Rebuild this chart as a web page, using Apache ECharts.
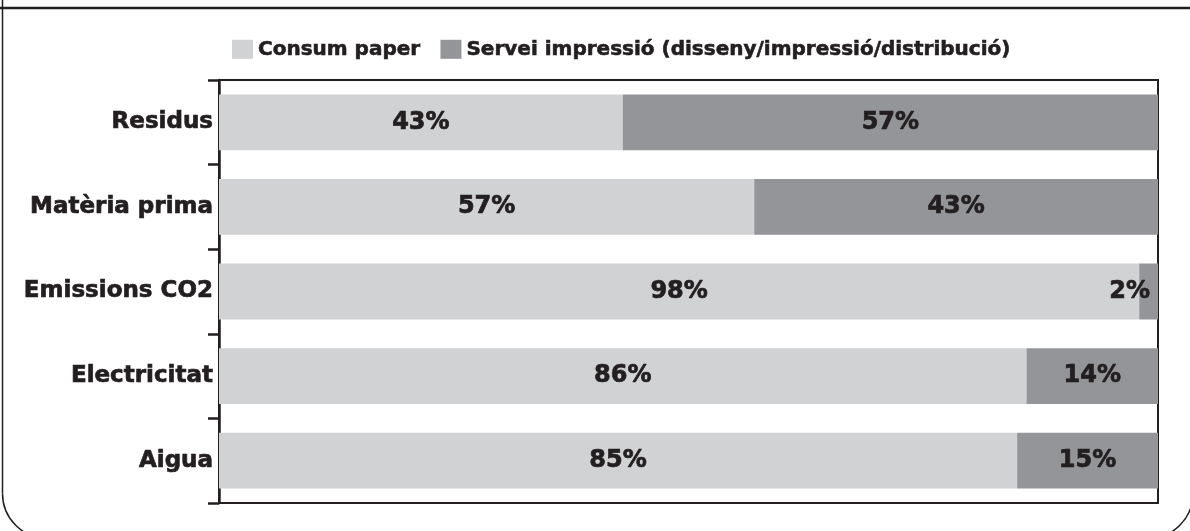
<!DOCTYPE html>
<html>
<head>
<meta charset="utf-8">
<script src="https://cdn.jsdelivr.net/npm/echarts@6/dist/echarts.min.js"></script>
<style>
html,body{margin:0;padding:0;background:#fff;}
#chart{width:1190px;height:531px;}
</style>
</head>
<body>
<div id="chart"></div>
<script>
const categories = ['Residus', 'Matèria prima', 'Emissions CO2', 'Electricitat', 'Aigua'];
const seriesNames = ['Consum paper', 'Servei impressió (disseny/impressió/distribució)'];
const consumPaper = [43, 57, 98, 86, 85];
const serveiImpressio = [57, 43, 2, 14, 15];

const ink = '#231f20';
const font = '"DejaVu Sans", Verdana, sans-serif';

const chart = echarts.init(document.getElementById('chart'));

function labelCfg() {
  return {
    show: true,
    position: 'inside',
    formatter: p => p.value + '%',
    color: ink,
    fontFamily: font,
    fontWeight: 'bold',
    fontSize: 24,
    textBorderColor: ink,
    textBorderWidth: 0.7
  };
}

const darkData = serveiImpressio.map(v => {
  if (v < 5) {
    return { value: v, label: { position: 'insideRight', distance: 8 } };
  }
  return v;
});

const borderStyle = { fill: 'none', stroke: ink, lineWidth: 1.5 };

chart.setOption({
  animation: false,
  backgroundColor: '#fff',
  graphic: [
    { type: 'line', shape: { x1: 2.5, y1: 0, x2: 2.5, y2: 493.5 }, style: borderStyle, z: 0 },
    { type: 'arc', shape: { cx: 47.5, cy: 493.5, r: 45, startAngle: Math.PI / 2, endAngle: Math.PI, clockwise: true }, style: borderStyle, z: 0 },
    { type: 'arc', shape: { cx: 1148, cy: 493.5, r: 45, startAngle: 0, endAngle: Math.PI / 2, clockwise: true }, style: borderStyle, z: 0 },
    { type: 'line', shape: { x1: 0, y1: 8, x2: 1190, y2: 8 }, style: { stroke: ink, lineWidth: 2.5 }, z: 0 }
  ],
  legend: {
    left: 232,
    top: 39,
    padding: 0,
    itemWidth: 21,
    itemHeight: 19,
    itemGap: 20,
    icon: 'rect',
    textStyle: { color: ink, fontFamily: font, fontWeight: 'bold', fontSize: 20, textBorderColor: ink, textBorderWidth: 0.6 },
    data: seriesNames
  },
  grid: {
    left: 219,
    right: 32,
    top: 80,
    bottom: 28,
    show: true,
    borderColor: ink,
    borderWidth: 2,
    backgroundColor: 'transparent'
  },
  xAxis: {
    type: 'value',
    min: 0,
    max: 100,
    show: false
  },
  yAxis: {
    type: 'category',
    inverse: true,
    data: categories,
    axisLine: { show: true, lineStyle: { color: ink, width: 2.5 } },
    axisTick: { show: true, length: 11, lineStyle: { color: ink, width: 2.5 } },
    axisLabel: { color: ink, fontFamily: font, fontWeight: 'bold', fontSize: 23, margin: 6, textBorderColor: ink, textBorderWidth: 0.7 }
  },
  series: [
    {
      name: seriesNames[0],
      type: 'bar',
      stack: 'total',
      barCategoryGap: '34%',
      itemStyle: { color: '#d1d2d4' },
      label: labelCfg(),
      data: consumPaper
    },
    {
      name: seriesNames[1],
      type: 'bar',
      stack: 'total',
      barCategoryGap: '34%',
      itemStyle: { color: '#939598' },
      label: labelCfg(),
      data: darkData
    }
  ]
});
</script>
</body>
</html>
